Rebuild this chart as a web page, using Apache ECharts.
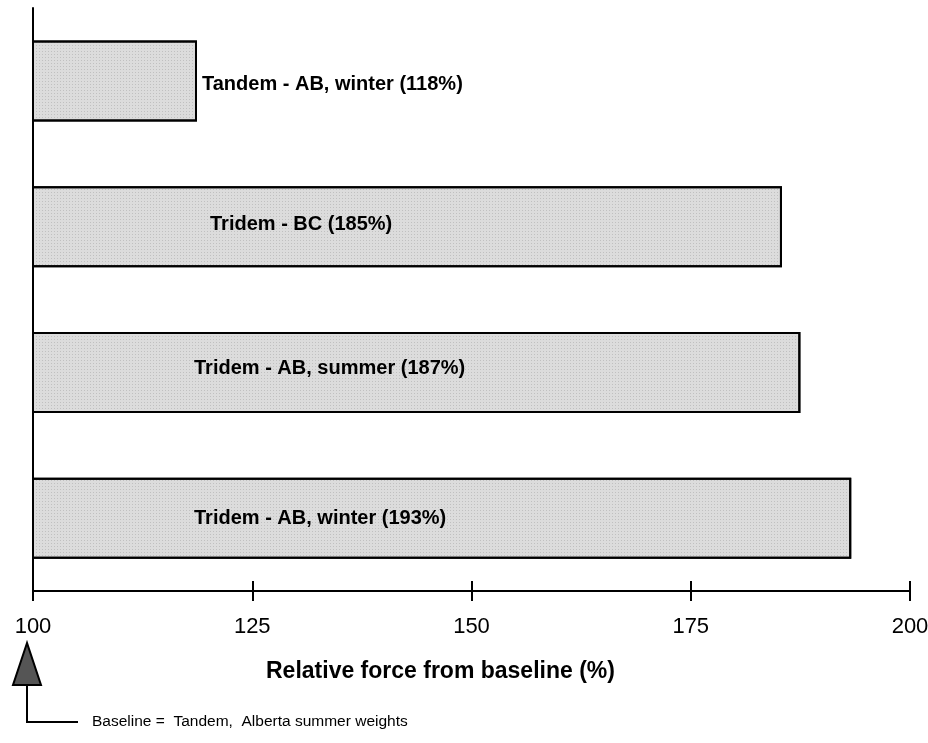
<!DOCTYPE html>
<html>
<head>
<meta charset="utf-8">
<script src="https://cdn.jsdelivr.net/npm/echarts@6/dist/echarts.min.js"></script>
<style>
  html, body { margin: 0; padding: 0; background: #fff; }
  #chart { width: 928px; height: 743px; }
</style>
</head>
<body>
<div id="chart"></div>
<script>
// data
var categories = ['Tandem - AB, winter', 'Tridem - BC', 'Tridem - AB, summer', 'Tridem - AB, winter'];
var values = [118.7, 185.4, 187.5, 193.3];   // bar lengths as drawn
var percents = [118, 185, 187, 193];         // numbers printed in labels
var xTicks = [100, 125, 150, 175, 200];
var baselineText = 'Baseline =  Tandem,  Alberta summer weights';

var chart = echarts.init(document.getElementById('chart'));
var font = '"Liberation Sans", Arial, Helvetica, sans-serif';

// where each label sits: first one outside the bar, others inside
var labelPos = ['right', 'insideLeft', 'insideLeft', 'insideLeft'];
var labelDist = [5, 178, 162, 162];
var labelOff = [[0, 4], [0, -2], [0, -4], [0, 0]];

var barData = values.map(function (v, i) {
    return {
        value: v,
        label: {
            position: labelPos[i],
            distance: labelDist[i],
            offset: labelOff[i]
        }
    };
});

var stipple = {
    symbol: 'rect',
    symbolSize: 0.5,
    color: 'rgba(0,0,0,0.5)',
    dashArrayX: [1, 2],
    dashArrayY: [1, 2],
    rotation: 0
};

chart.setOption({
    animation: false,
    grid: {left: 33, right: 18, top: 8, bottom: 152, containLabel: false, outerBoundsMode: 'none'},
    xAxis: [
        {
            type: 'value',
            min: xTicks[0],
            max: xTicks[xTicks.length - 1],
            interval: 25,
            position: 'bottom',
            axisLine: {show: true, onZero: false, lineStyle: {color: '#000', width: 2}},
            axisTick: {show: true, length: 10, inside: false, lineStyle: {color: '#000', width: 2}},
            axisLabel: {color: '#000', fontFamily: font, fontSize: 22, margin: 25},
            splitLine: {show: false}
        },
        {
            type: 'value',
            min: xTicks[0],
            max: xTicks[xTicks.length - 1],
            interval: 25,
            position: 'bottom',
            axisLine: {show: false},
            axisTick: {show: true, length: 10, inside: true, lineStyle: {color: '#000', width: 2}},
            axisLabel: {show: false},
            splitLine: {show: false}
        }
    ],
    yAxis: {
        type: 'category',
        data: categories,
        inverse: true,
        axisLine: {show: true, lineStyle: {color: '#000', width: 2}},
        axisTick: {show: false},
        axisLabel: {show: false}
    },
    series: [{
        type: 'bar',
        data: barData,
        barWidth: 81,
        itemStyle: {
            color: '#dcdcdc',
            borderColor: '#000',
            borderWidth: 2,
            decal: stipple
        },
        label: {
            show: true,
            color: '#000',
            fontFamily: font,
            fontWeight: 'bold',
            fontSize: 20,
            formatter: function (p) {
                return categories[p.dataIndex] + ' (' + percents[p.dataIndex] + '%)';
            }
        }
    }]
});

// annotations under the axis
var x0 = chart.convertToPixel({xAxisIndex: 0}, xTicks[0]);
chart.setOption({
    graphic: [
        {
            type: 'text',
            left: 266,
            top: 660,
            style: {
                text: 'Relative force from baseline (%)',
                fontFamily: font,
                fontWeight: 'bold',
                fontSize: 23,
                fill: '#000'
            }
        },
        {
            type: 'polygon',
            shape: {points: [[x0 - 6, 643], [x0 - 20, 685], [x0 + 8, 685]]},
            style: {fill: '#555', stroke: '#000', lineWidth: 2}
        },
        {
            type: 'polyline',
            shape: {points: [[x0 - 6, 685], [x0 - 6, 722], [x0 + 45, 722]]},
            style: {stroke: '#000', lineWidth: 2, fill: null}
        },
        {
            type: 'text',
            left: 92,
            top: 714,
            style: {
                text: baselineText,
                fontFamily: font,
                fontSize: 15.5,
                fill: '#000'
            }
        }
    ]
});
</script>
</body>
</html>
